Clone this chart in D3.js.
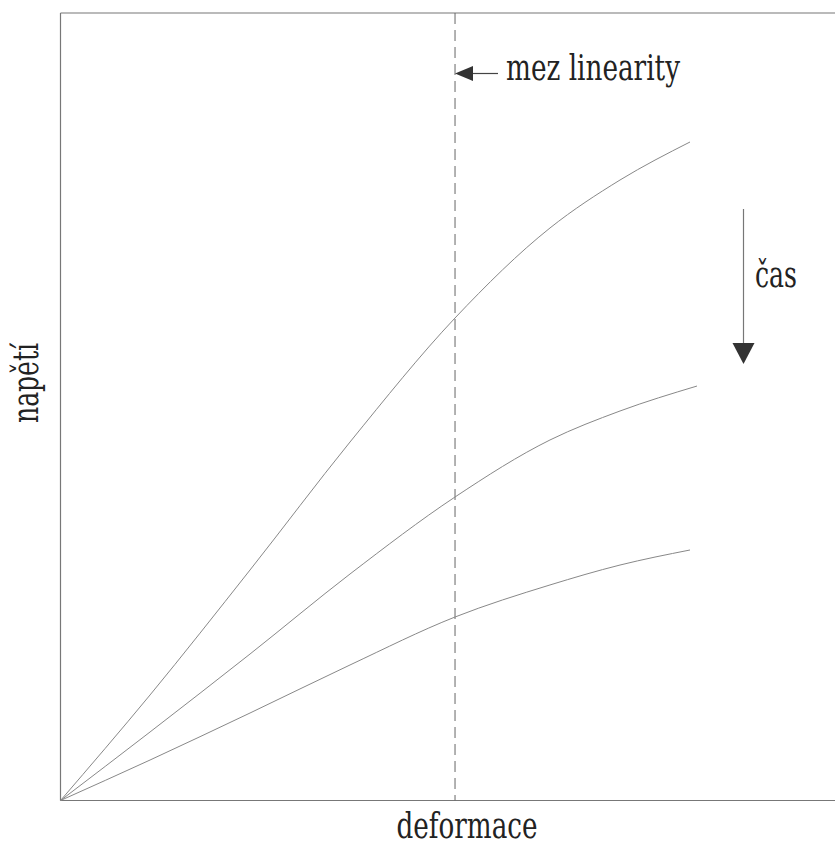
<!DOCTYPE html>
<html>
<head>
<meta charset="utf-8">
<script src="https://cdn.jsdelivr.net/npm/d3@7"></script>
<style>
  html, body { margin: 0; padding: 0; background: #fff; }
  svg { display: block; }
  svg text { font-family: "DejaVu Serif", "Liberation Serif", serif; }
</style>
</head>
<body>
<svg id="chart" width="835" height="847"></svg>
<script>
// ---- data (deformation / stress, arbitrary units 0..100) ----
const strain      = [0, 11.56, 24.47, 37.38, 50.94, 63.20, 72.24, 81.28];
const strainMid   = [0, 11.56, 24.47, 37.38, 50.94, 63.20, 72.24, 82.18];
const stressEarly = [0, 13.40, 29.27, 45.52, 61.27, 72.70, 78.79, 83.62];
const stressMid   = [0, 8.70, 18.60, 28.76, 38.54, 45.78, 49.46, 52.63];
const stressLate  = [0, 5.14, 11.11, 17.21, 23.30, 27.37, 29.90, 31.81];
const linearityLimit = 50.94;
const xLabel = "deformace";
const yLabel = "napětí";
const limitLabel = "mez linearity";
const timeLabel = "čas";

const svg = d3.select("#chart");
const margin = {left: 60.5, top: 13, bottom: 46.5};
const W = 835, H = 847;

const x = d3.scaleLinear().domain([0, 100]).range([margin.left, margin.left + 774.5]);
const y = d3.scaleLinear().domain([0, 100]).range([H - margin.bottom, margin.top]);

const frameColor = "#777";
// frame: left, top, bottom (no right border)
svg.append("line").attr("x1", x(0)).attr("x2", x(0)).attr("y1", y(0)).attr("y2", y(100))
  .attr("stroke", frameColor).attr("stroke-width", 1.2);
svg.append("line").attr("x1", x(0)).attr("x2", W).attr("y1", y(100)).attr("y2", y(100))
  .attr("stroke", frameColor).attr("stroke-width", 1.2);
svg.append("line").attr("x1", x(0)).attr("x2", W).attr("y1", y(0)).attr("y2", y(0))
  .attr("stroke", frameColor).attr("stroke-width", 1.2);

// dashed linearity limit
svg.append("line").attr("x1", x(linearityLimit)).attr("x2", x(linearityLimit))
  .attr("y1", y(100)).attr("y2", y(0))
  .attr("stroke", "#666").attr("stroke-width", 1).attr("stroke-dasharray", "11,6");

// curves
const series = [
  {xs: strain, ys: stressEarly},
  {xs: strainMid, ys: stressMid},
  {xs: strain, ys: stressLate}
];
const line = d3.line().x(d => x(d[0])).y(d => y(d[1])).curve(d3.curveMonotoneX);
series.forEach(s => {
  svg.append("path")
    .attr("d", line(s.xs.map((v, i) => [v, s.ys[i]])))
    .attr("fill", "none").attr("stroke", "#888").attr("stroke-width", 1);
});

function label(txt, tx, ty, rot, width, anchor) {
  svg.append("text")
    .attr("transform", `translate(${tx},${ty})` + (rot ? ` rotate(${rot})` : ""))
    .style("font-size", "35px")
    .attr("fill", "#222")
    .attr("text-anchor", anchor || "start")
    .attr("textLength", width)
    .attr("lengthAdjust", "spacingAndGlyphs")
    .text(txt);
}

// "mez linearity" arrow
const ay = 73.5, ax = x(linearityLimit);
svg.append("line").attr("x1", ax + 15).attr("x2", ax + 43).attr("y1", ay).attr("y2", ay)
  .attr("stroke", "#444").attr("stroke-width", 1.2);
svg.append("path")
  .attr("d", `M${ax},${ay} L${ax + 18},${ay - 7.5} L${ax + 18},${ay + 7.5} Z`)
  .attr("fill", "#333");
label(limitLabel, 506, 80, 0, 174);

// "čas" arrow
const vx = 743.5;
svg.append("line").attr("x1", vx).attr("x2", vx).attr("y1", 209).attr("y2", 346)
  .attr("stroke", "#777").attr("stroke-width", 1.2);
svg.append("path")
  .attr("d", `M${vx - 11},343 L${vx + 11},343 L${vx},364 Z`)
  .attr("fill", "#333");
label(timeLabel, 755, 287, 0, 42);

// axis labels
label(xLabel, 467, 838, 0, 141, "middle");
label(yLabel, 38, 383, -90, 80, "middle");
</script>
</body>
</html>
